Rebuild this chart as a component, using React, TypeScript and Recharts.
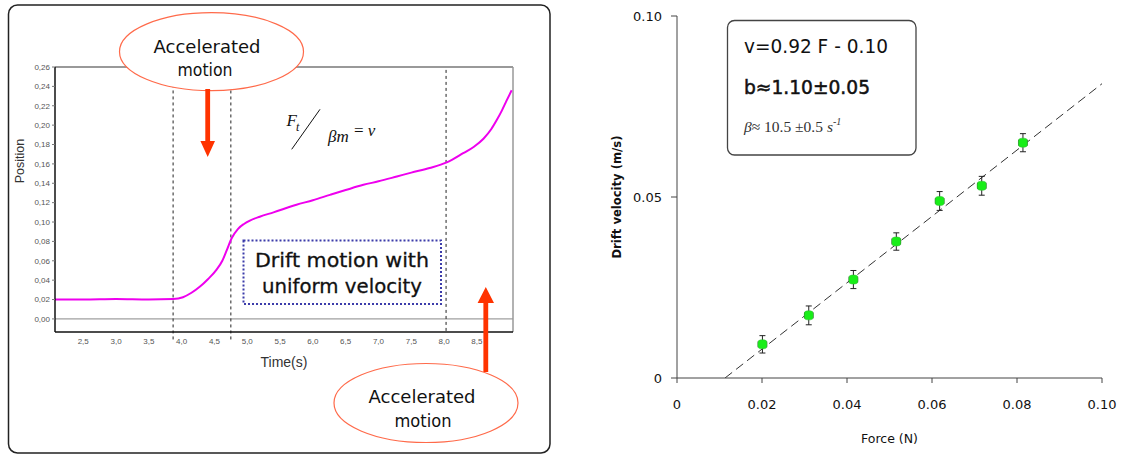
import {
  LineChart,
  Line,
  XAxis,
  YAxis,
  ReferenceLine,
  ComposedChart,
  Scatter,
  ErrorBar,
} from 'recharts'

// left panel: position vs time
const TIME = [
  2.07, 2.5, 3.0, 3.5, 3.87, 4.02, 4.15, 4.28, 4.4, 4.53, 4.62, 4.69, 4.76, 4.86, 4.95, 5.04, 5.19, 5.4,
  5.75, 6.0, 6.26, 6.5, 6.77, 7.0, 7.28, 7.5, 7.78, 8.04, 8.29, 8.45, 8.6, 8.72, 8.8, 8.88, 8.95, 9.03,
]
const POSITION = [
  0.02, 0.02, 0.0205, 0.02, 0.0205, 0.0224, 0.027, 0.0334, 0.041, 0.0506, 0.06, 0.0713, 0.083, 0.093,
  0.098, 0.1015, 0.1055, 0.11, 0.1178, 0.1225, 0.128, 0.133, 0.1384, 0.142, 0.147, 0.151, 0.1557, 0.1615,
  0.171, 0.1775, 0.186, 0.196, 0.205, 0.215, 0.225, 0.236,
]
const TIME_TICKS = [2.5, 3, 3.5, 4, 4.5, 5, 5.5, 6, 6.5, 7, 7.5, 8, 8.5]
const POSITION_TICKS = [0, 0.02, 0.04, 0.06, 0.08, 0.1, 0.12, 0.14, 0.16, 0.18, 0.2, 0.22, 0.24, 0.26]
// dashed phase boundaries: [time, top, bottom]
const PHASE_MARKS = [
  [3.87, 0.242, -0.024],
  [4.75, 0.242, -0.024],
  [8.03, 0.257, -0.0135],
]

// right panel: drift velocity vs force
const FORCE = [0.0201, 0.031, 0.0415, 0.0516, 0.0618, 0.0717, 0.0814]
const VELOCITY = [0.0093, 0.0173, 0.0272, 0.0377, 0.0489, 0.0531, 0.065]
const VELOCITY_ERR = [0.0024, 0.0026, 0.0025, 0.0024, 0.0026, 0.0026, 0.0025]
const FORCE_ERR = [0.001, 0.001, 0.001, 0.001, 0.001, 0.001, 0.001]
const FIT_FORCE = [0.0113, 0.1]
const FIT_VELOCITY = [0, 0.0813]
const FORCE_TICKS = [0, 0.02, 0.04, 0.06, 0.08, 0.1]
const VELOCITY_TICKS = [0, 0.05, 0.1]

const positionData = TIME.map((t, i) => ({ t, p: POSITION[i] }))
const velocityPoints = FORCE.map((f, i) => ({
  f,
  v: VELOCITY[i],
  vErr: VELOCITY_ERR[i],
  fErr: FORCE_ERR[i],
}))
const fitLine = FIT_FORCE.map((f, i) => ({ f, v: FIT_VELOCITY[i] }))

const COMIC = '"Comic Sans MS", "DejaVu Sans", sans-serif'
const ARIAL = '"Liberation Sans", Arial, sans-serif'
const SERIF = '"Liberation Serif", "Times New Roman", serif'

const comma = (digits: number) => (v: number) => v.toFixed(digits).replace('.', ',')

const PositionChart = () => (
  <LineChart
    width={549}
    height={455}
    data={positionData}
    margin={{ top: 67, right: 36, bottom: 93, left: 0 }}
  >
    <XAxis
      dataKey="t"
      type="number"
      domain={[2.07, 9.05]}
      allowDataOverflow
      ticks={TIME_TICKS}
      interval={0}
      tickFormatter={comma(1)}
      tick={{ fontSize: 8, fill: '#555', fontFamily: ARIAL }}
      tickLine={false}
      tickSize={0}
      tickMargin={6}
      height={30}
      axisLine={{ stroke: '#111', strokeWidth: 1.5 }}
      label={{
        value: 'Time(s)',
        position: 'insideBottom',
        offset: -5,
        fontSize: 14,
        fill: '#333',
        fontFamily: ARIAL,
      }}
    />
    <YAxis
      type="number"
      domain={[-0.0135, 0.26]}
      allowDataOverflow
      ticks={POSITION_TICKS}
      interval={0}
      tickFormatter={comma(2)}
      tick={{ fontSize: 8, fill: '#555', fontFamily: ARIAL }}
      tickSize={3}
      tickMargin={2}
      tickLine={{ stroke: '#777' }}
      width={55}
      axisLine={{ stroke: '#111', strokeWidth: 1.5 }}
      label={{
        content: () => (
          <text
            x={20}
            y={161}
            transform="rotate(-90 20 161)"
            textAnchor="middle"
            dominantBaseline="central"
            fontSize={12.5}
            fill="#333"
            fontFamily={ARIAL}
          >
            Position
          </text>
        ),
      }}
    />
    <ReferenceLine y={0} stroke="#888" strokeWidth={1} />
    <ReferenceLine y={0.26} stroke="#777" strokeWidth={1.5} />
    <ReferenceLine x={9.05} stroke="#999" strokeWidth={1.5} />
    {PHASE_MARKS.map(([t, top, bottom]) => (
      <ReferenceLine
        key={t}
        segment={[
          { x: t, y: top },
          { x: t, y: bottom },
        ]}
        ifOverflow="visible"
        stroke="#222"
        strokeDasharray="3 3"
        strokeWidth={1}
      />
    ))}
    <Line
      dataKey="p"
      type="monotone"
      stroke="#ee00ee"
      strokeWidth={2}
      dot={false}
      isAnimationActive={false}
    />
  </LineChart>
)

const GreenDot = (props: any) => {
  const { cx, cy } = props
  return <rect x={cx - 4.5} y={cy - 4.5} width={9} height={9} rx={3} fill="#18ee18" stroke="#3bbf3b" strokeWidth={0.5} />
}

const VelocityChart = () => (
  <ComposedChart width={567} height={455} margin={{ top: 16, right: 25, bottom: 37, left: 40 }}>
    <XAxis
      dataKey="f"
      type="number"
      domain={[0, 0.1]}
      allowDataOverflow
      ticks={FORCE_TICKS}
      interval={0}
      tickFormatter={(v: number) => (v === 0 ? '0' : v.toFixed(2))}
      tick={{ fontSize: 13, fill: '#111', fontFamily: COMIC }}
      tickSize={5}
      tickMargin={17}
      height={40}
      axisLine={{ stroke: '#444' }}
      tickLine={{ stroke: '#444' }}
      label={{
        value: 'Force (N)',
        position: 'insideBottom',
        offset: -25,
        fontSize: 12.5,
        fill: '#111',
        fontFamily: COMIC,
      }}
    />
    <YAxis
      dataKey="v"
      type="number"
      domain={[0, 0.1]}
      allowDataOverflow
      ticks={VELOCITY_TICKS}
      interval={0}
      tickFormatter={(v: number) => (v === 0 ? '0' : v.toFixed(2))}
      tick={{ fontSize: 13, fill: '#111', fontFamily: COMIC }}
      tickSize={6}
      tickMargin={9}
      width={77}
      axisLine={{ stroke: '#444' }}
      tickLine={{ stroke: '#444' }}
      label={{
        content: () => (
          <text
            x={57}
            y={197}
            transform="rotate(-90 57 197)"
            textAnchor="middle"
            dominantBaseline="central"
            fontSize={11.5}
            fontWeight="bold"
            fill="#111"
            fontFamily={COMIC}
            textLength={123}
            lengthAdjust="spacingAndGlyphs"
          >
            Drift velocity (m/s)
          </text>
        ),
      }}
    />
    <Line
      data={fitLine}
      dataKey="v"
      type="linear"
      stroke="#333"
      strokeWidth={1}
      strokeDasharray="9 5"
      dot={false}
      isAnimationActive={false}
    />
    <Scatter data={velocityPoints} dataKey="v" shape={GreenDot} isAnimationActive={false}>
      <ErrorBar dataKey="vErr" direction="y" width={3} stroke="#222" strokeWidth={1} isAnimationActive={false} />
      <ErrorBar dataKey="fErr" direction="x" width={3} stroke="#222" strokeWidth={1} isAnimationActive={false} />
    </Scatter>
  </ComposedChart>
)

const Annotations = () => {
  const arrow = '#ff3300'
  const ring = '#ff6a4a'
  return (
    <svg
      width={1127}
      height={455}
      style={{ position: 'absolute', left: 0, top: 0, pointerEvents: 'none' }}
    >
      {/* frame of the left slide */}
      <rect x={8.5} y={5} width={541.5} height={448} rx={9} fill="none" stroke="#222" strokeWidth={1.5} />

      {/* F_t / βm = v */}
      <text x={286.5} y={126} fontFamily={SERIF} fontStyle="italic" fontSize={17} fill="#111">F</text>
      <text x={296} y={131} fontFamily={SERIF} fontStyle="italic" fontSize={12} fill="#111">t</text>
      <line x1={291.7} y1={149.3} x2={320} y2={109.3} stroke="#111" strokeWidth={1} />
      <text x={328} y={142} fontFamily={SERIF} fontStyle="italic" fontSize={17} fill="#111">βm</text>
      <text x={354} y={136} fontFamily={SERIF} fontSize={17} fill="#111">
        = <tspan fontStyle="italic">v</tspan>
      </text>

      {/* drift box */}
      <rect x={243.5} y={240.5} width={197.5} height={63.5} fill="#fff" stroke="#3c3caa" strokeWidth={2} strokeDasharray="2 2" />
      <text x={342} y={267} textAnchor="middle" fontFamily={COMIC} fontSize={20} fill="#111" stroke="#111" strokeWidth={0.3} textLength={174} lengthAdjust="spacingAndGlyphs">
        Drift motion with
      </text>
      <text x={342} y={293} textAnchor="middle" fontFamily={COMIC} fontSize={20} fill="#111" stroke="#111" strokeWidth={0.3} textLength={160} lengthAdjust="spacingAndGlyphs">
        uniform velocity
      </text>

      {/* top callout */}
      <ellipse cx={211.5} cy={51.7} rx={92} ry={39} fill="#fff" stroke={ring} strokeWidth={1.2} />
      <text x={207} y={53} textAnchor="middle" fontFamily={COMIC} fontSize={18} fill="#111" textLength={107} lengthAdjust="spacingAndGlyphs">
        Accelerated
      </text>
      <text x={205} y={76} textAnchor="middle" fontFamily={COMIC} fontSize={18} fill="#111" textLength={55} lengthAdjust="spacingAndGlyphs">
        motion
      </text>
      <polygon points="205.3,89 210.1,89 210.1,141 215,141 207.7,157 200.4,141 205.3,141" fill={arrow} />

      {/* bottom callout */}
      <ellipse cx={426} cy={403} rx={92} ry={39.5} fill="#fff" stroke={ring} strokeWidth={1.2} />
      <text x={422} y={403} textAnchor="middle" fontFamily={COMIC} fontSize={18} fill="#111" textLength={107} lengthAdjust="spacingAndGlyphs">
        Accelerated
      </text>
      <text x={423} y={427} textAnchor="middle" fontFamily={COMIC} fontSize={18} fill="#111" textLength={57} lengthAdjust="spacingAndGlyphs">
        motion
      </text>
      <polygon points="483.4,372 488.2,372 488.2,303 494,303 485.8,287 477.6,303 483.4,303" fill={arrow} />

      {/* fit results */}
      <rect x={727.5} y={20.5} width={188.5} height={134.5} rx={7} fill="#fff" stroke="#444" strokeWidth={1.3} />
      <text x={744} y={53} fontFamily={COMIC} fontSize={19} fill="#111" textLength={144} lengthAdjust="spacingAndGlyphs">
        v=0.92 F - 0.10
      </text>
      <text x={744} y={94} fontFamily={COMIC} fontSize={19} fill="#111" stroke="#111" strokeWidth={0.5} textLength={126} lengthAdjust="spacingAndGlyphs">
        b≈1.10±0.05
      </text>
      <text x={744} y={131.5} fontFamily={SERIF} fontSize={15.5} fill="#333">
        <tspan fontStyle="italic">β</tspan>≈ 10.5 ±0.5 <tspan fontStyle="italic">s</tspan>
        <tspan fontStyle="italic" fontSize={10} dy={-7}>-1</tspan>
      </text>
    </svg>
  )
}

export default function App() {
  return (
    <div style={{ position: 'absolute', left: 0, top: 0, width: 1127, height: 455, background: '#fff' }}>
      <div style={{ position: 'absolute', left: 0, top: 0 }}>
        <PositionChart />
      </div>
      <div style={{ position: 'absolute', left: 560, top: 0 }}>
        <VelocityChart />
      </div>
      <Annotations />
    </div>
  )
}
